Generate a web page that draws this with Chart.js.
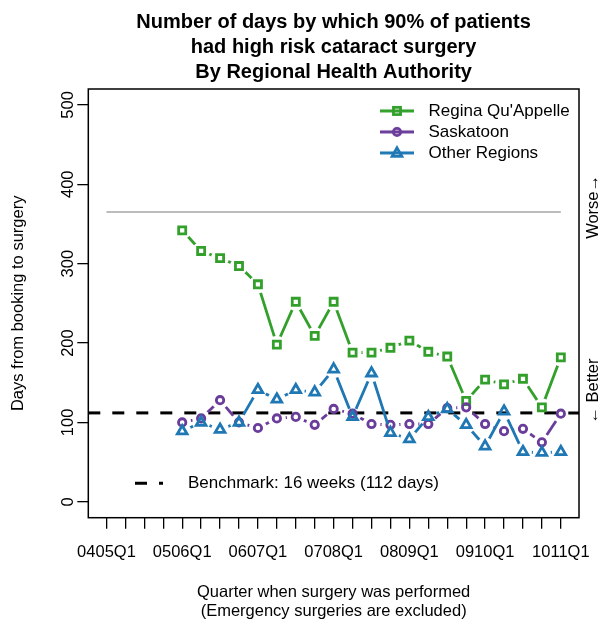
<!DOCTYPE html>
<html>
<head>
<meta charset="utf-8">
<script src="https://cdn.jsdelivr.net/npm/chart.js@4"></script>
<style>
html,body{margin:0;padding:0;background:#fff}
#wrap{width:600px;height:619px;position:relative}
</style>
</head>
<body>
<div id="wrap"><canvas id="c"></canvas></div>
<script>
// ---------------- data ----------------
const quarters = ['0405Q1','0405Q2','0405Q3','0405Q4','0506Q1','0506Q2','0506Q3','0506Q4',
  '0607Q1','0607Q2','0607Q3','0607Q4','0708Q1','0708Q2','0708Q3','0708Q4',
  '0809Q1','0809Q2','0809Q3','0809Q4','0910Q1','0910Q2','0910Q3','0910Q4','1011Q1'];
const tickLabels = ['0405Q1','0506Q1','0607Q1','0708Q1','0809Q1','0910Q1','1011Q1'];
const dataQuarters = ['0506Q1','0506Q2','0506Q3','0506Q4','0607Q1','0607Q2','0607Q3','0607Q4',
  '0708Q1','0708Q2','0708Q3','0708Q4','0809Q1','0809Q2','0809Q3','0809Q4',
  '0910Q1','0910Q2','0910Q3','0910Q4','1011Q1'];
const seriesNames = ["Regina Qu'Appelle", 'Saskatoon', 'Other Regions'];
const regina       = [342,316,307,297,274,198,252,209,252,188,188,194,203,189,183,127,154,148,155,119,182];
const saskatoon    = [100,105,128,100, 93,105,107, 97,117,111, 98, 97, 98, 98,118,119, 98, 89, 92, 75,111];
const otherRegions = [ 89,100, 91,100,141,129,141,138,167,107,162, 87, 79,107,117, 97, 70,114, 63, 62, 63];
const yTicks = [0,100,200,300,400,500];
const benchmarkDays = 112;
const referenceDays = 365;
const titleLines = ['Number of days by which 90% of patients','had high risk cataract surgery','By Regional Health Authority'];
const xTitleLines = ['Quarter when surgery was performed','(Emergency surgeries are excluded)'];
const yTitle = 'Days from booking to surgery';
const benchmarkLabel = 'Benchmark: 16 weeks (112 days)';
const worseLabel = 'Worse\u2192';
const betterLabel = '\u2190 Better';

// ---------------- styling ----------------
const FONT = "'Liberation Sans', Arial, Helvetica, sans-serif";
const colors = ['#33a02c', '#6a3d9a', '#1f78b4'];
const styles = ['rect', 'circle', 'triangle'];
const radii = [5.0, 3.7, 5.6];
const LW = 2.8;
const X_MIN = -0.04 * (quarters.length - 1);
const X_MAX = (quarters.length - 1) * 1.04;
const Y_MIN = -20, Y_MAX = 520;
const RIGHT_SHIFT = 67.2; // centres the title over the plot box

Chart.defaults.font.family = FONT;
Chart.defaults.color = '#000';

const toPoints = vals => dataQuarters.map((q, i) => ({ x: quarters.indexOf(q), y: vals[i] }));
const seriesVals = [regina, saskatoon, otherRegions];

function legendIcon(i) {
  const c = document.createElement('canvas');
  c.width = 34; c.height = 16;
  const g = c.getContext('2d');
  g.strokeStyle = colors[i];
  g.lineWidth = LW;
  g.beginPath(); g.moveTo(0, 8); g.lineTo(34, 8); g.stroke();
  g.beginPath();
  if (styles[i] === 'rect') {
    const h = radii[i] * Math.SQRT1_2;
    g.rect(17 - h, 8 - h, 2 * h, 2 * h);
  } else if (styles[i] === 'circle') {
    g.arc(17, 8, radii[i], 0, Math.PI * 2);
  } else {
    const r = radii[i];
    for (let k = 0; k < 3; k++) {
      const a = k * 2 * Math.PI / 3;
      const px = 17 + Math.sin(a) * r, py = 8.5 - Math.cos(a) * r;
      if (k === 0) g.moveTo(px, py); else g.lineTo(px, py);
    }
    g.closePath();
  }
  g.stroke();
  return c;
}
const icons = [0, 1, 2].map(legendIcon);

const datasets = [];
datasets.push({
  label: 'ref', data: [{ x: 0, y: referenceDays }, { x: quarters.length - 1, y: referenceDays }],
  borderColor: '#7a7a7a', borderWidth: 1.1, pointRadius: 0, order: 20
});
datasets.push({
  label: 'bench', data: [{ x: X_MIN, y: benchmarkDays }, { x: X_MAX, y: benchmarkDays }],
  borderColor: '#000', borderWidth: 3, borderDash: [12, 12], pointRadius: 0, order: 19
});
seriesVals.forEach((vals, i) => {
  datasets.push({
    label: seriesNames[i] + ' line', data: toPoints(vals),
    borderColor: colors[i], borderWidth: LW, pointRadius: 0, pointHitRadius: 0,
    borderCapStyle: 'round', tension: 0, gapRadius: 9, order: 10 - 2 * i
  });
  datasets.push({
    label: seriesNames[i], data: toPoints(vals), showLine: false,
    pointStyle: styles[i], pointRadius: radii[i], pointBorderWidth: LW,
    pointBorderColor: colors[i], pointBackgroundColor: 'rgba(0,0,0,0)',
    borderColor: colors[i], order: 9 - 2 * i
  });
});

const gapPlugin = {
  id: 'gaps',
  beforeDatasetDraw(chart, args) {
    const ds = chart.data.datasets[args.index];
    if (!ds.gapRadius) return;
    const ctx = chart.ctx;
    ctx.save();
    ctx.beginPath();
    ctx.rect(0, 0, chart.width, chart.height);
    args.meta.data.forEach(p => {
      ctx.moveTo(p.x + ds.gapRadius, p.y);
      ctx.arc(p.x, p.y, ds.gapRadius, 0, Math.PI * 2, true);
    });
    ctx.clip('evenodd');
  },
  afterDatasetDraw(chart, args) {
    const ds = chart.data.datasets[args.index];
    if (!ds.gapRadius) return;
    chart.ctx.restore();
  }
};

const placeLegend = {
  id: 'placeLegend',
  afterLayout(chart) {
    const lg = chart.legend, ca = chart.chartArea;
    if (!lg) return;
    lg.left = ca.right - 209;
    lg.top = ca.top + 9.4;
    lg.width = 230; lg.height = 90;
    lg.right = lg.left + lg.width;
    lg.bottom = lg.top + lg.height;
  }
};

const extras = {
  id: 'extras',
  afterDraw(chart) {
    const ctx = chart.ctx, ca = chart.chartArea;
    ctx.save();
    ctx.strokeStyle = '#000';
    ctx.lineWidth = 1.5;
    ctx.strokeRect(ca.left, ca.top, ca.right - ca.left, ca.bottom - ca.top);
    // benchmark legend
    const ly = ca.bottom - 34.5;
    ctx.lineWidth = 3;
    ctx.setLineDash([12, 12]);
    ctx.beginPath();
    ctx.moveTo(ca.left + 46.7, ly); ctx.lineTo(ca.left + 74.7, ly);
    ctx.stroke();
    ctx.setLineDash([]);
    ctx.fillStyle = '#000';
    ctx.font = '17px ' + FONT;
    ctx.textAlign = 'left';
    ctx.textBaseline = 'middle';
    ctx.fillText(benchmarkLabel, ca.left + 99.7, ly);
    // right side annotations
    ctx.font = '16.5px ' + FONT;
    const h = ca.bottom - ca.top;
    [[worseLabel, 0.275], [betterLabel, 0.7045]].forEach(([t, f]) => {
      ctx.save();
      ctx.translate(ca.right + 14, ca.top + f * h);
      ctx.rotate(-Math.PI / 2);
      ctx.textAlign = 'center';
      ctx.fillText(t, 0, 0);
      ctx.restore();
    });
    ctx.restore();
  }
};

const noPad = s => { s.paddingLeft = 0; s.paddingRight = 0; s.paddingTop = 0; s.paddingBottom = 0; };

new Chart(document.getElementById('c'), {
  type: 'line',
  data: { datasets },
  plugins: [gapPlugin, placeLegend, extras],
  options: {
    responsive: true,
    maintainAspectRatio: false,
    animation: false,
    events: [],
    layout: { padding: { left: 0, right: -RIGHT_SHIFT, top: 0, bottom: 0 } },
    plugins: {
      tooltip: { enabled: false },
      title: {
        display: true, text: titleLines, color: '#000',
        font: { size: 20, weight: 'bold', lineHeight: 1.23 },
        padding: { top: 10.5, bottom: 4.7 }
      },
      legend: {
        display: true, position: 'chartArea', align: 'start', fullSize: false,
        labels: {
          usePointStyle: true, pointStyleWidth: 46, padding: 4,
          font: { size: 17 }, color: '#000',
          generateLabels: () => seriesNames.map((n, i) => ({
            text: n, pointStyle: icons[i], fillStyle: 'rgba(0,0,0,0)',
            strokeStyle: colors[i], lineWidth: 0, hidden: false, datasetIndex: 3 + 2 * i
          }))
        }
      }
    },
    scales: {
      x: {
        type: 'linear', position: 'bottom', min: X_MIN, max: X_MAX,
        afterBuildTicks: s => { s.ticks = quarters.map((q, i) => ({ value: i })); },
        afterFit: s => { s.height = 101.3; noPad(s); },
        ticks: {
          autoSkip: false, maxRotation: 0, minRotation: 0, padding: 14,
          font: { size: 16.5 }, color: '#000',
          callback: v => (tickLabels.includes(quarters[v]) ? quarters[v] : '')
        },
        grid: { display: true, drawOnChartArea: false, drawTicks: true, tickLength: 11, color: '#000', lineWidth: 1.3 },
        border: { display: false },
        title: {
          display: true, text: xTitleLines, color: '#000',
          font: { size: 16.5, lineHeight: 1.17 }, padding: { top: 0, bottom: -2 }
        }
      },
      y: {
        type: 'linear', position: 'left', min: Y_MIN, max: Y_MAX,
        afterBuildTicks: s => { s.ticks = yTicks.map(v => ({ value: v })); },
        afterFit: s => { s.width = 88.3; noPad(s); },
        ticks: {
          minRotation: 90, maxRotation: 90, crossAlign: 'center', padding: -5,
          font: { size: 16.5 }, color: '#000'
        },
        grid: { display: true, drawOnChartArea: false, drawTicks: true, tickLength: 11, color: '#000', lineWidth: 1.3 },
        border: { display: false },
        title: {
          display: true, text: yTitle, color: '#000',
          font: { size: 16.5, lineHeight: 1.2 }, padding: { top: 8.1, bottom: 0 }
        }
      },
      yRight: {
        type: 'linear', position: 'right', min: Y_MIN, max: Y_MAX, display: true,
        afterFit: s => { s.width = 21 + RIGHT_SHIFT; noPad(s); },
        ticks: { display: false },
        grid: { display: false, drawTicks: false },
        border: { display: false }
      }
    }
  }
});
</script>
</body>
</html>
